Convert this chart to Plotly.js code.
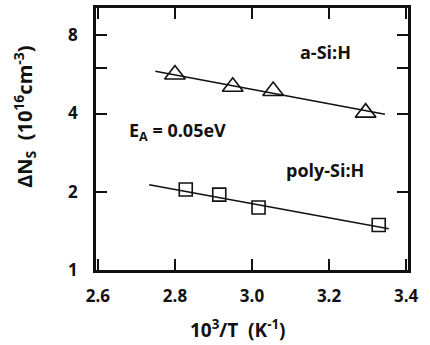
<!DOCTYPE html>
<html>
<head>
<meta charset="utf-8">
<script src="https://cdn.plot.ly/plotly-3.0.1.min.js"></script>
<style>html,body{margin:0;padding:0;background:#fff;}#chart{width:430px;height:345px;}</style>
</head>
<body>
<div id="chart"></div>
<script>
// a-Si:H measured points
var aSiX = [2.80, 2.95, 3.055, 3.295];
var aSiY = [5.65, 5.07, 4.88, 4.03];
// a-Si:H fitted line (endpoints)
var aSiFitX = [2.749, 3.345];
var aSiFitY = [5.82, 3.97];
// poly-Si:H measured points
var polyX = [2.828, 2.915, 3.017, 3.329];
var polyY = [2.04, 1.95, 1.74, 1.49];
// poly-Si:H fitted line
var polyFitX = [2.733, 3.355];
var polyFitY = [2.13, 1.44];
// tick labels
var xTickVals = [2.6, 2.8, 3.0, 3.2, 3.4];
var xTickText = ['2.6', '2.8', '3.0', '3.2', '3.4'];
var yTickVals = [1, 2, 4, 6, 8];
var yTickText = ['1', '2', '4', '', '8'];
var xTitle = '10<sup>3</sup>/T\u00A0\u00A0(K<sup>-1</sup>)';
var yTitle = 'ΔN<sub>S</sub>\u00A0\u00A0(10<sup>16</sup>cm<sup>-3</sup>)';

var fontFam = 'Open Sans, Lato, sans-serif';
var tickFont = {family: fontFam, size: 17, color: '#111', weight: 700};
var titleFont = {family: fontFam, size: 19, color: '#111', weight: 700};
var yTitleFont = {family: fontFam, size: 20, color: '#111', weight: 700};
var annFont = {family: fontFam, size: 18, color: '#111', weight: 700};

var traces = [
  {x: aSiFitX, y: aSiFitY, mode: 'lines', line: {color: '#111', width: 1.5}, hoverinfo: 'skip'},
  {x: polyFitX, y: polyFitY, mode: 'lines', line: {color: '#111', width: 1.5}, hoverinfo: 'skip'},
  {x: aSiX, y: aSiY, mode: 'markers', marker: {symbol: 'triangle-up-open', size: 18, color: '#111', line: {width: 1.6, color: '#111'}}},
  {x: polyX, y: polyY, mode: 'markers', marker: {symbol: 'square-open', size: 13, color: '#111', line: {width: 1.6, color: '#111'}}}
];

var layout = {
  width: 430, height: 345,
  margin: {l: 96, r: 22, t: 8, b: 75},
  showlegend: false,
  paper_bgcolor: '#fff', plot_bgcolor: '#fff',
  font: tickFont,
  xaxis: {
    range: [2.595, 3.405],
    tickvals: xTickVals, ticktext: xTickText,
    ticks: 'inside', ticklen: 11, tickwidth: 2, tickcolor: '#111',
    showline: true, linewidth: 2.5, linecolor: '#111', mirror: 'ticks',
    showgrid: false, zeroline: false,
    ticklabelstandoff: 9,
    tickfont: tickFont
  },
  yaxis: {
    type: 'log',
    range: [0, 1.008],
    tickvals: yTickVals, ticktext: yTickText,
    ticks: 'inside', ticklen: 11, tickwidth: 2, tickcolor: '#111',
    showline: true, linewidth: 2.5, linecolor: '#111', mirror: 'ticks',
    showgrid: false, zeroline: false,
    ticklabelstandoff: 12,
    tickfont: tickFont
  },
  annotations: [
    {x: 3.19, y: Math.log10(6.9), xref: 'x', yref: 'y', text: 'a-Si:H', showarrow: false, font: annFont},
    {x: 3.19, y: Math.log10(2.43), xref: 'x', yref: 'y', text: 'poly-Si:H', showarrow: false, font: annFont},
    {x: 2.675, y: Math.log10(3.4), xref: 'x', yref: 'y', xanchor: 'left', text: 'E<sub>A</sub>\u00A0=\u00A00.05eV', showarrow: false, font: annFont},
    {x: 0.455, y: -0.225, xref: 'paper', yref: 'paper', xanchor: 'center', yanchor: 'middle', text: xTitle, showarrow: false, font: titleFont},
    {x: -0.228, y: 0.584, xref: 'paper', yref: 'paper', xanchor: 'center', yanchor: 'middle', text: yTitle, textangle: -90, showarrow: false, font: yTitleFont}
  ]
};

Plotly.newPlot('chart', traces, layout, {displayModeBar: false});
</script>
</body>
</html>
